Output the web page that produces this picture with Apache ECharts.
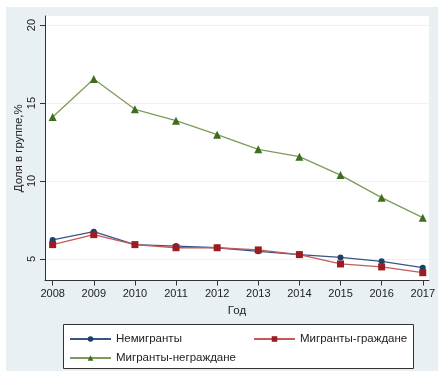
<!DOCTYPE html>
<html><head><meta charset="utf-8">
<script src="https://cdn.jsdelivr.net/npm/echarts@6/dist/echarts.min.js"></script>
<style>html,body{margin:0;padding:0;background:#fff}#c{width:438px;height:371px}</style>
</head><body><div id="c"></div>
<script>
const years = [2008, 2009, 2010, 2011, 2012, 2013, 2014, 2015, 2016, 2017];
const nonMigrants = [6.22, 6.75, 5.92, 5.83, 5.72, 5.49, 5.28, 5.10, 4.85, 4.44];
const migrantsCitizens = [5.92, 6.56, 5.92, 5.72, 5.72, 5.58, 5.28, 4.68, 4.49, 4.12];
const migrantsNonCitizens = [14.1, 16.54, 14.6, 13.87, 12.97, 12.03, 11.56, 10.38, 8.93, 7.65];
const yTicks = [5, 10, 15, 20];
const names = ['Немигранты', 'Мигранты-граждане', 'Мигранты-неграждане'];

const pair = arr => years.map((y, i) => [y, arr[i]]);
const font = 'Liberation Sans, Arial, sans-serif';
const chart = echarts.init(document.getElementById('c'), null, {renderer: 'canvas'});
const legendBase = {
  orient: 'horizontal', itemWidth: 41, itemHeight: 7, itemGap: 4, padding: 0,
  textStyle: {fontFamily: font, fontSize: 11.5, color: '#222', padding: [0, 0, 0, 0]},
  selectedMode: false
};
chart.setOption({
  backgroundColor: '#ffffff',
  animation: false,
  graphic: [
    {type: 'rect', left: 6, top: 7, shape: {width: 432, height: 364}, style: {fill: '#e8f0f3'}, z: -10, silent: true},
    {type: 'rect', left: 63, top: 324, shape: {width: 350, height: 44}, style: {fill: '#ffffff', stroke: '#333', lineWidth: 1}, z: -5, silent: true}
  ],
  grid: {left: 45, right: 7.5, top: 16, bottom: 90.5, show: true, backgroundColor: '#ffffff', borderWidth: 0},
  xAxis: {
    type: 'value', min: 2007.814, max: 2017.15,
    name: 'Год', nameLocation: 'middle', nameGap: 24,
    nameTextStyle: {fontFamily: font, fontSize: 11.5, color: '#222'},
    axisLine: {show: true, onZero: false, lineStyle: {color: '#333', width: 1}},
    axisTick: {show: true, length: 5, customValues: years, lineStyle: {color: '#333'}},
    axisLabel: {customValues: years, fontFamily: font, fontSize: 11, color: '#222', margin: 8, formatter: v => String(v)},
    splitLine: {show: false}
  },
  yAxis: {
    type: 'value', min: 3.62, max: 20.58,
    name: 'Доля в группе,%', nameLocation: 'middle', nameGap: 20, nameRotate: 90, nameMoveOverlap: false,
    nameTextStyle: {fontFamily: font, fontSize: 11.5, color: '#222'},
    axisLine: {show: true, onZero: false, lineStyle: {color: '#333', width: 1}},
    axisTick: {show: true, length: 5, customValues: yTicks, lineStyle: {color: '#333'}},
    axisLabel: {customValues: yTicks, rotate: 90, fontFamily: font, fontSize: 11, color: '#222', margin: 8},
    splitLine: {show: true, lineStyle: {color: '#eaf2f4', width: 1}}
  },
  legend: [
    Object.assign({}, legendBase, {left: 69, top: 333, data: [names[0]]}),
    Object.assign({}, legendBase, {left: 253, top: 333, data: [names[1]]}),
    Object.assign({}, legendBase, {left: 69, top: 352, data: [names[2]]})
  ],
  series: [
    {name: names[2], type: 'line', data: pair(migrantsNonCitizens), symbol: 'triangle', symbolSize: 8,
     lineStyle: {color: '#7d9b5c', width: 1.3}, itemStyle: {color: '#3f6d1e'}, z: 3},
    {name: names[0], type: 'line', data: pair(nonMigrants), symbol: 'circle', symbolSize: 6,
     lineStyle: {color: '#3a5485', width: 1.3}, itemStyle: {color: '#1c3f6e'}, z: 4},
    {name: names[1], type: 'line', data: pair(migrantsCitizens), symbol: 'rect', symbolSize: 7,
     lineStyle: {color: '#c35a5a', width: 1.3}, itemStyle: {color: '#9c1c22'}, z: 5}
  ]
});
</script></body></html>
